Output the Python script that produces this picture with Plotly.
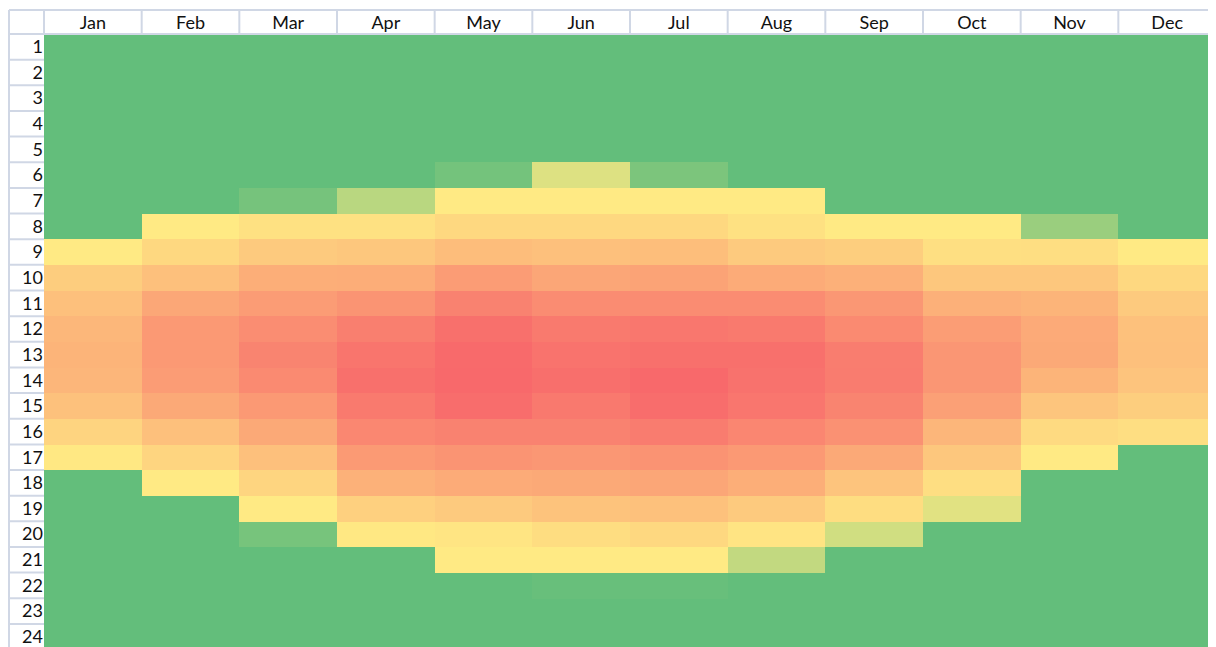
import plotly.graph_objects as go

months = ["Jan", "Feb", "Mar", "Apr", "May", "Jun", "Jul", "Aug", "Sep", "Oct", "Nov", "Dec"]
hours = list(range(1, 25))

# values per month, hour 1..24 (relative intensity, 0 = none)
jan = [0, 0, 0, 0, 0, 0, 0, 0, 11, 31, 40, 46, 48, 47, 39, 26, 12, 0, 0, 0, 0, 0, 0, 0]
feb = [0, 0, 0, 0, 0, 0, 0, 11, 23, 40, 57, 67, 67, 65, 56, 40, 25, 11, 0, 0, 0, 0, 0, 0]
mar = [0, 0, 0, 0, 0, 0, 1.2, 17, 33, 52, 65, 75, 81, 77, 67, 56, 40, 25, 11, 1.3, 0, 0, 0, 0]
apr = [0, 0, 0, 0, 0, 0, 5.5, 17, 35, 53, 70, 85, 92, 95, 88, 79, 66, 50, 29, 12, 0, 0, 0, 0]
may = [0, 0, 0, 0, 0, 1.1, 11, 23, 42, 65, 83, 95, 99, 100, 97, 83, 70, 54, 33, 14, 10.5, 0, 0, 0]
jun = [0, 0, 0, 0, 0, 7.8, 11, 23, 40, 58, 76, 88, 93, 96, 89, 83, 68, 56, 38, 20, 11, 0.3, 0, 0]
jul = [0, 0, 0, 0, 0, 1.6, 11, 23, 41, 60, 76, 90, 95, 100, 97, 87, 71, 58, 39, 23, 11, 0.3, 0, 0]
aug = [0, 0, 0, 0, 0, 0, 11, 17, 33, 54, 76, 88, 95, 94, 91, 80, 67, 52, 33, 15, 6.1, 0, 0, 0]
sep = [0, 0, 0, 0, 0, 0, 0, 11, 30, 51, 68, 77, 86, 87, 81, 72, 56, 37, 20, 7.0, 0, 0, 0, 0]
oct_ = [0, 0, 0, 0, 0, 0, 0, 11, 18, 35, 51, 64, 69, 69, 62, 47, 35, 19, 8.1, 0, 0, 0, 0, 0]
nov = [0, 0, 0, 0, 0, 0, 0, 3.5, 19, 35, 48, 55, 56, 48, 36, 22, 11, 0, 0, 0, 0, 0, 0, 0]
dec = [0, 0, 0, 0, 0, 0, 0, 0, 11, 23, 33, 39, 40, 37, 30, 19, 0, 0, 0, 0, 0, 0, 0, 0]

columns = [jan, feb, mar, apr, may, jun, jul, aug, sep, oct_, nov, dec]
z = [[col[h] for col in columns] for h in range(24)]

# page body adds an 8px offset, so the figure is 8px smaller than the window
W, H = 1208, 639
L, T = 36, 26
pw, ph = W - L, H - T
grid = "#D0D7E5"

fig = go.Figure(go.Heatmap(
    x=list(range(1, 13)),
    y=hours,
    z=z,
    zmin=0,
    zmax=100,
    colorscale=[[0, "#63BE7B"], [0.1, "#FFEB84"], [1, "#F8696B"]],
    showscale=False,
    hoverinfo="skip",
))

# header grid lines (spreadsheet look)
left = -L / pw + 1 / pw
top = 1 + 24 / ph
shapes = []
shapes.append(dict(type="line", xref="paper", yref="paper", x0=left, x1=1, y0=top, y1=top))
shapes.append(dict(type="line", xref="paper", yref="paper", x0=left, x1=1, y0=1, y1=1))
shapes.append(dict(type="line", xref="paper", yref="paper", x0=left, x1=left, y0=0, y1=top))
shapes.append(dict(type="line", xref="paper", yref="paper", x0=0, x1=0, y0=1, y1=top))
for i in range(1, 13):
    xp = i / 12 - (1 / pw if i == 12 else 0)
    shapes.append(dict(type="line", xref="paper", yref="paper", x0=xp, x1=xp, y0=1, y1=top))
for h in hours:
    shapes.append(dict(type="line", xref="paper", yref="y", x0=left, x1=0, y0=h + 0.5, y1=h + 0.5))
for s in shapes:
    s["line"] = dict(color=grid, width=2)

fig.update_layout(
    width=W,
    height=H,
    margin=dict(l=L, r=0, t=T, b=0),
    paper_bgcolor="white",
    plot_bgcolor="white",
    font=dict(family="Lato", size=18, color="#111"),
    shapes=shapes,
    xaxis=dict(
        side="top",
        range=[0.5, 12.5],
        tickvals=list(range(1, 13)),
        ticktext=months,
        showgrid=False,
        zeroline=False,
        ticks="",
        fixedrange=True,
    ),
    yaxis=dict(
        range=[24.4, 0.5],
        tickvals=hours,
        ticktext=[str(h) for h in hours],
        ticklabeloverflow="allow",
        showgrid=False,
        zeroline=False,
        ticks="",
        fixedrange=True,
    ),
)

fig.write_html("out.html")
